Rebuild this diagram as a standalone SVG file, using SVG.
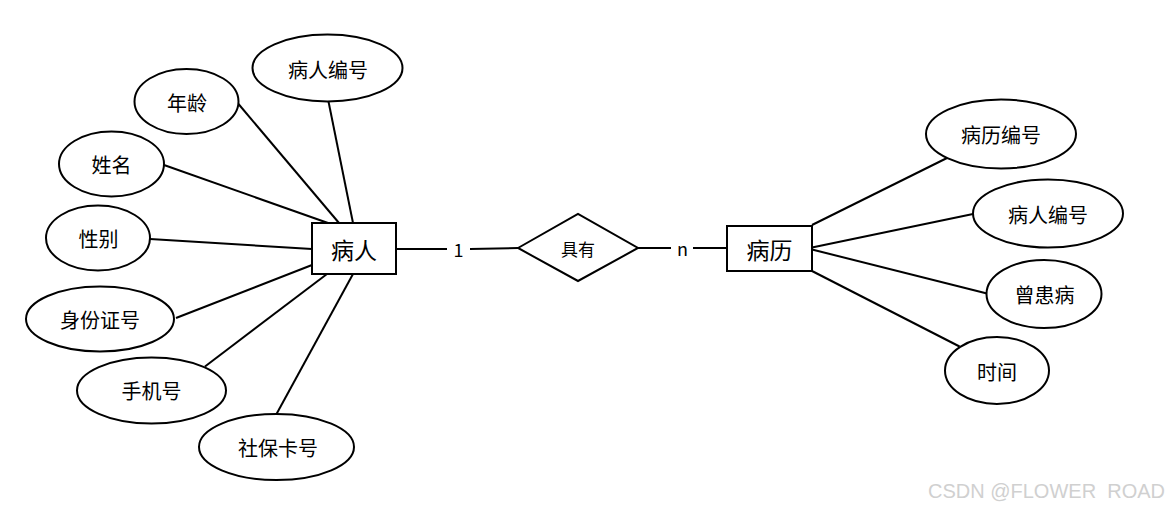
<svg xmlns="http://www.w3.org/2000/svg" width="1168" height="510" viewBox="0 0 1168 510">
<style>
.shape{fill:#fff;stroke:#000;stroke-width:2}
.ln{stroke:#000;stroke-width:2;fill:none}
.t{font-family:"Noto Sans CJK SC","Microsoft YaHei",sans-serif;font-size:20px;fill:#000;text-anchor:middle;dominant-baseline:central}
.big{font-size:23px}
.rel{font-size:17px}
.card{font-family:"Noto Sans CJK SC",sans-serif;font-size:18px;fill:#000;text-anchor:middle;dominant-baseline:central}
.wm{font-family:"Liberation Sans",Arial,sans-serif;font-size:20px;fill:#d0d0d0;white-space:pre}
</style>
<rect width="1168" height="510" fill="#fff"/>
<g id="connectors">
<line class="ln" x1="328.5" y1="101.5" x2="353" y2="223"/>
<line class="ln" x1="238.5" y1="104" x2="339" y2="223"/>
<line class="ln" x1="164" y1="165" x2="328" y2="223"/>
<line class="ln" x1="150" y1="239" x2="312" y2="249"/>
<line class="ln" x1="176" y1="318" x2="312" y2="265"/>
<line class="ln" x1="205" y1="366.5" x2="327" y2="274"/>
<line class="ln" x1="276.5" y1="414" x2="353" y2="274"/>
<line class="ln" x1="396" y1="249" x2="447" y2="249"/>
<line class="ln" x1="470" y1="249" x2="518" y2="248"/>
<line class="ln" x1="638" y1="248" x2="671" y2="248"/>
<line class="ln" x1="693" y1="248" x2="727" y2="248"/>
<line class="ln" x1="812" y1="225" x2="947" y2="158"/>
<line class="ln" x1="812" y1="247.5" x2="973" y2="214"/>
<line class="ln" x1="812" y1="249.5" x2="987" y2="293.5"/>
<line class="ln" x1="812" y1="271" x2="959.5" y2="346.5"/>
<text class="card" x="458.5" y="249">1</text>
<text class="card" x="682.5" y="248">n</text>
</g>
<g id="patient">
<rect class="shape" x="312" y="223" width="84" height="51"/>
<text class="t big" x="354" y="248.5">病人</text>
</g>
<g id="record">
<rect class="shape" x="727" y="226" width="85" height="45"/>
<text class="t big" x="769.5" y="248.5">病历</text>
</g>
<g id="has">
<polygon class="shape" points="518,248 578,214 638,248 578,281"/>
<text class="t rel" x="578" y="248">具有</text>
</g>
<g id="attr-patient-id">
<ellipse class="shape" cx="327.5" cy="68" rx="75" ry="33.5"/>
<text class="t" x="328" y="69">病人编号</text>
</g>
<g id="attr-age">
<ellipse class="shape" cx="186.5" cy="101.5" rx="52" ry="32.5"/>
<text class="t" x="187" y="102">年龄</text>
</g>
<g id="attr-name">
<ellipse class="shape" cx="111.5" cy="164" rx="52.5" ry="32.5"/>
<text class="t" x="111.5" y="164.5">姓名</text>
</g>
<g id="attr-gender">
<ellipse class="shape" cx="98" cy="238" rx="52" ry="32.5"/>
<text class="t" x="98.5" y="238.5">性别</text>
</g>
<g id="attr-idcard">
<ellipse class="shape" cx="100" cy="319" rx="74" ry="32.5"/>
<text class="t" x="100" y="319.5">身份证号</text>
</g>
<g id="attr-phone">
<ellipse class="shape" cx="151.5" cy="390.5" rx="74.5" ry="33"/>
<text class="t" x="151.5" y="390.5">手机号</text>
</g>
<g id="attr-social">
<ellipse class="shape" cx="276.5" cy="447" rx="77.5" ry="33"/>
<text class="t" x="278" y="447.5">社保卡号</text>
</g>
<g id="attr-record-id">
<ellipse class="shape" cx="1001" cy="134" rx="75" ry="34.5"/>
<text class="t" x="1001" y="134">病历编号</text>
</g>
<g id="attr-record-patient-id">
<ellipse class="shape" cx="1048" cy="213.5" rx="75" ry="34"/>
<text class="t" x="1048" y="214">病人编号</text>
</g>
<g id="attr-disease">
<ellipse class="shape" cx="1044" cy="294" rx="57.5" ry="34"/>
<text class="t" x="1044.5" y="294.5">曾患病</text>
</g>
<g id="attr-time">
<ellipse class="shape" cx="997" cy="370.5" rx="52" ry="33.5"/>
<text class="t" x="997" y="371">时间</text>
</g>
<text class="wm" x="928" y="498" xml:space="preserve">CSDN @FLOWER  ROAD</text>
</svg>
